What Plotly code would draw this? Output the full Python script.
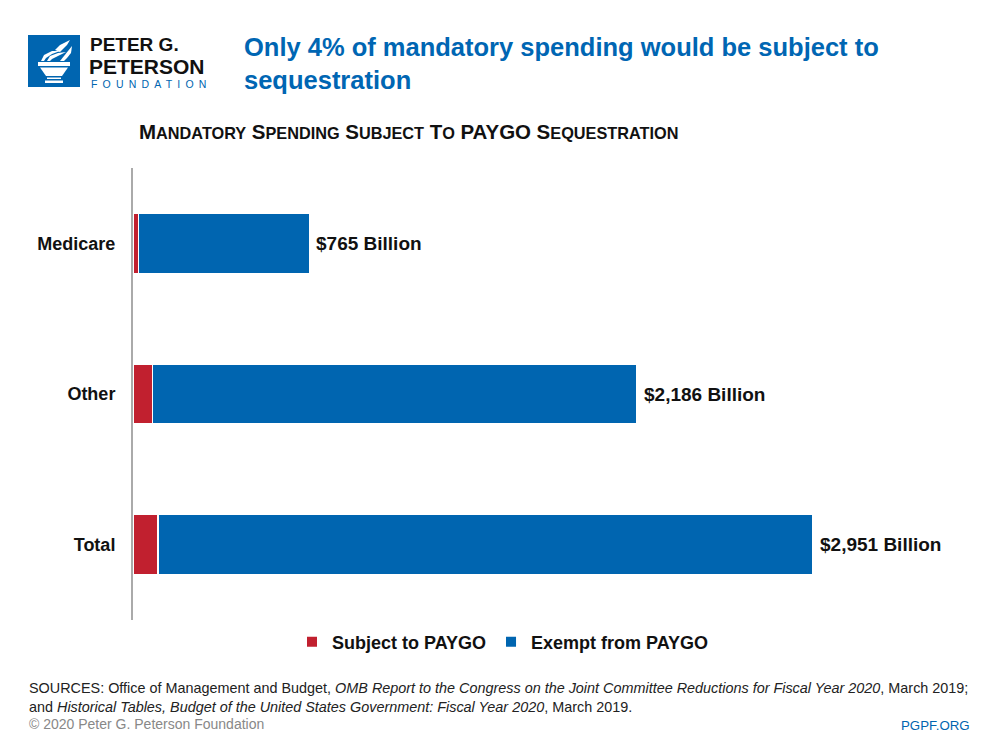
import plotly.graph_objects as go

# ---- data ----
categories = ["Medicare", "Other", "Total"]
subject_to_paygo = [24, 84, 108]        # $ billions
exempt_from_paygo = [741, 2102, 2843]   # $ billions
totals = [765, 2186, 2951]
value_labels = ["$765 Billion", "$2,186 Billion", "$2,951 Billion"]
legend_names = ["Subject to PAYGO", "Exempt from PAYGO"]

RED = "#C1202F"
BLUE = "#0065B0"
FONT = "Liberation Sans, Arial, sans-serif"

W, H = 1000, 750
OFF = 8  # page body margin compensation
ml, mr, mt, mb = 133, 40, 168, 130
pw, ph = W - ml - mr, H - mt - mb


def px(x):
    return (x - ml) / pw


def py(y):
    return 1 - (y - mt) / ph


fig = go.Figure()
fig.add_trace(go.Bar(
    y=categories, x=subject_to_paygo, orientation="h", name=legend_names[0],
    marker=dict(color=RED, line=dict(color="white", width=1.5)), width=0.4,
))
fig.add_trace(go.Bar(
    y=categories, x=exempt_from_paygo, orientation="h", name=legend_names[1],
    marker=dict(color=BLUE, line=dict(color="white", width=1.5)), width=0.4,
))

annotations = []
for c, t, lab in zip(categories, totals, value_labels):
    annotations.append(dict(
        x=t, y=c, xref="x", yref="y", text=lab, showarrow=False,
        xanchor="left", yanchor="middle", xshift=5,
        font=dict(family=FONT, size=19, color="#111", weight="bold"),
    ))

# Title
annotations.append(dict(
    x=px(242), y=py(63), xref="paper", yref="paper", xanchor="left", yanchor="middle",
    text="Only 4% of mandatory spending would be subject to<br>sequestration",
    align="left", showarrow=False,
    font=dict(family=FONT, size=25.5, color="#0066B3", weight="bold"),
))


def smallcaps(s, big=20.5, small=16.3):
    out = []
    for word in s.split(" "):
        first, rest = word[0], word[1:]
        if word in ("PAYGO",):
            out.append(f"<span style='font-size:{big}px'>{word}</span>")
        elif rest:
            out.append(f"<span style='font-size:{big}px'>{first}</span>"
                       f"<span style='font-size:{small}px'>{rest.upper()}</span>")
        else:
            out.append(f"<span style='font-size:{big}px'>{first}</span>")
    return " ".join(out)


annotations.append(dict(
    x=px(137), y=py(131), xref="paper", yref="paper", xanchor="left", yanchor="middle",
    text=smallcaps("Mandatory Spending Subject To PAYGO Sequestration"),
    showarrow=False, font=dict(family=FONT, size=20, color="#111", weight="bold"),
))

# Logo text
annotations += [
    dict(x=px(89), y=py(44), xref="paper", yref="paper", xanchor="left", yanchor="middle",
         text="PETER G.", showarrow=False, borderpad=0,
         font=dict(family=FONT, size=19, color="#111", weight="bold")),
    dict(x=px(88), y=py(66.5), xref="paper", yref="paper", xanchor="left", yanchor="middle",
         text="PETERSON", showarrow=False, borderpad=0,
         font=dict(family=FONT, size=21, color="#111", weight="bold")),
    dict(x=px(90), y=py(84.5), xref="paper", yref="paper", xanchor="left", yanchor="middle",
         text="<span style='letter-spacing:5.2px'>FOUNDATION</span>", showarrow=False,
         borderpad=0, font=dict(family=FONT, size=10.5, color="#0065B0")),
]

# Sources
annotations.append(dict(
    x=px(27), y=py(697), xref="paper", yref="paper", xanchor="left", yanchor="middle",
    align="left", showarrow=False,
    text=("SOURCES: Office of Management and Budget, <i>OMB Report to the Congress on the Joint "
          "Committee Reductions for Fiscal Year 2020</i>, March 2019;<br>and <i>Historical Tables, "
          "Budget of the United States Government: Fiscal Year 2020</i>, March 2019."),
    font=dict(family=FONT, size=14.4, color="#222"),
))
annotations.append(dict(
    x=px(27), y=py(724), xref="paper", yref="paper", xanchor="left", yanchor="middle",
    text="© 2020 Peter G. Peterson Foundation", showarrow=False,
    font=dict(family=FONT, size=14, color="#888"),
))
annotations.append(dict(
    x=px(972), y=py(725), xref="paper", yref="paper", xanchor="right", yanchor="middle",
    text="PGPF.ORG", showarrow=False,
    font=dict(family=FONT, size=13.3, color="#0065B0"),
))


# Logo shapes (torch)
def path(points):
    return "M " + " L ".join(f"{px(x)},{py(y)}" for x, y in points) + " Z"


shapes = [
    dict(type="rect", xref="paper", yref="paper", x0=px(28), x1=px(80), y0=py(35), y1=py(87),
         fillcolor="#0065B0", line=dict(width=0), layer="above"),
    dict(type="path", xref="paper", yref="paper", path=path([(38, 62), (70, 62), (70, 66), (38, 66)]),
         fillcolor="white", line=dict(width=0)),
    dict(type="path", xref="paper", yref="paper",
         path=path([(40, 67.5), (68, 67.5), (62, 76), (46, 76)]),
         fillcolor="white", line=dict(width=0)),
    dict(type="path", xref="paper", yref="paper", path=path([(47, 77.5), (61, 77.5), (61, 79), (47, 79)]),
         fillcolor="white", line=dict(width=0)),
    dict(type="path", xref="paper", yref="paper", path=path([(45, 80.5), (63, 80.5), (63, 83), (45, 83)]),
         fillcolor="white", line=dict(width=0)),
]
flames = [
    [(41, 61), (44, 55), (52, 51), (60, 51), (52, 54), (46, 58), (44, 61)],
    [(47, 61), (50, 56), (58, 53), (66, 52), (58, 56), (52, 59), (50, 61)],
    [(55, 50), (60, 45), (66, 42), (70, 40), (67, 45), (63, 49), (60, 52)],
    [(60, 61), (64, 56), (68, 51), (72, 46), (71, 53), (67, 58), (64, 61)],
]
for f in flames:
    shapes.append(dict(type="path", xref="paper", yref="paper", path=path(f),
                       fillcolor="white", line=dict(width=0)))

x_max = pw / (680 / 2951)

fig.update_layout(
    width=W, height=H,
    margin=dict(l=ml - OFF, r=mr + OFF, t=mt - OFF, b=mb + OFF),
    paper_bgcolor="white", plot_bgcolor="white",
    barmode="stack",
    showlegend=True,
    legend=dict(orientation="h", x=px(503), xanchor="center", y=py(642), yanchor="middle",
                font=dict(family=FONT, size=18, color="#111", weight="bold"),
                itemsizing="constant", traceorder="normal"),
    xaxis=dict(range=[0, x_max], visible=False, fixedrange=True),
    yaxis=dict(categoryorder="array", categoryarray=categories, autorange="reversed",
               showline=True, linecolor="#AAAAAA", linewidth=2, ticks="", showgrid=False,
               tickfont=dict(family=FONT, size=18, color="#111", weight="bold"),
               ticklabelstandoff=12),
    annotations=annotations,
    shapes=shapes,
    font=dict(family=FONT),
)

fig.write_html("out.html")
